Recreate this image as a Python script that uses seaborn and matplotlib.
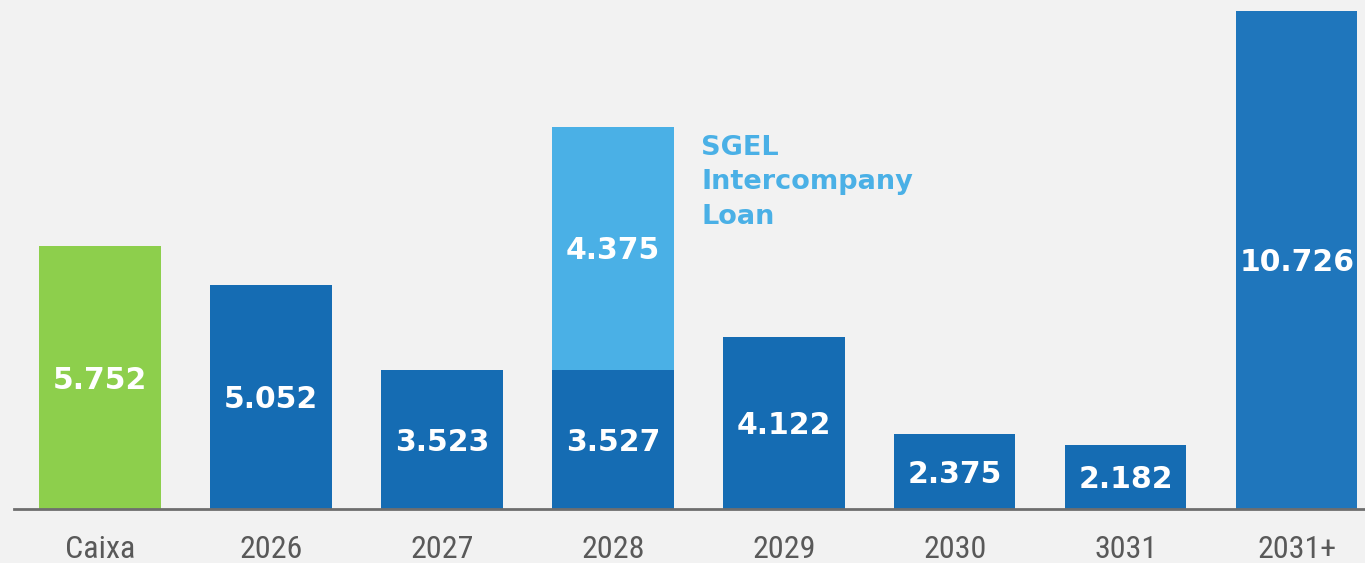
import matplotlib
matplotlib.use("Agg")
import matplotlib.pyplot as plt
from matplotlib import font_manager as fm
import seaborn as sns
import pandas as pd

categories = ["Caixa", "2026", "2027", "2028", "2029", "2030", "3031", "2031+"]
base_values = [5.752, 5.052, 3.523, 3.527, 4.122, 2.375, 2.182, 10.726]
stack_values = [0, 0, 0, 4.375, 0, 0, 0, 0]
stack_label = "SGEL\nIntercompany\nLoan"

bar_colors = ["#8DCF4C", "#156CB3", "#156CB3", "#156CB3", "#156CB3", "#156CB3", "#156CB3", "#1F76BC"]
stack_color = "#4AB0E6"
bg = "#F2F2F2"

sns.set_theme(style="white")
plt.rcParams["font.family"] = ["DejaVu Sans"]

# pick a condensed font for category labels
cands = ["Liberation Sans Narrow", "Roboto Condensed", "Open Sans Condensed",
         "Noto Sans Condensed", "DejaVu Sans Condensed", "Arial Narrow"]
narrow = None
for c in cands:
    try:
        fm.findfont(fm.FontProperties(family=c), fallback_to_default=False)
        narrow = c
        break
    except Exception:
        pass

fig = plt.figure(figsize=(13.65, 5.63), dpi=100, facecolor=bg)
ax = fig.add_axes([14 / 1365, 1 - 509 / 563, 1 - 14 / 1365, (509 - 11) / 563])
ax.set_facecolor(bg)

df = pd.DataFrame({"cat": categories, "val": base_values})
sns.barplot(data=df, x="cat", y="val", hue="cat", palette=bar_colors,
            width=0.708, linewidth=0, legend=False, ax=ax, saturation=1)

ymin, ymax = 1.023, 9.98
ax.set_ylim(ymin, ymax)
ax.set_xlim(-0.503, 7.398)

for i, (b, s) in enumerate(zip(base_values, stack_values)):
    if s > 0:
        ax.bar(i, s, bottom=b, width=0.708, color=stack_color, linewidth=0, zorder=3)
        mid = (b + min(b + s, ymax)) / 2
        ax.text(i, mid - 0.04, f"{s:.3f}", ha="center", va="center", color="white",
                fontsize=21.5, fontweight="bold", zorder=4)
        ax.text(i + 0.515, 7.75, stack_label, ha="left", va="top", color=stack_color,
                fontsize=19.5, fontweight="bold", linespacing=1.42, zorder=4)
    lo = max(0, ymin)
    hi = min(b, ymax)
    ax.text(i, (lo + hi) / 2 - 0.05, f"{b:.3f}", ha="center", va="center", color="white",
            fontsize=21.5, fontweight="bold", zorder=4)

for sp in ["top", "right", "left"]:
    ax.spines[sp].set_visible(False)
ax.spines["bottom"].set_color("#6E6E6E")
ax.spines["bottom"].set_linewidth(2)
ax.set_yticks([])
ax.set_xlabel("")
ax.set_ylabel("")
ax.tick_params(axis="x", length=0, pad=19)
for lab in ax.get_xticklabels():
    lab.set_color("#595959")
    if narrow:
        lab.set_family([narrow, "DejaVu Sans"])
        lab.set_fontsize(23)
    else:
        lab.set_family(["DejaVu Sans"])
        lab.set_fontsize(19)

fig.savefig("out.png", dpi=100, facecolor=bg)
